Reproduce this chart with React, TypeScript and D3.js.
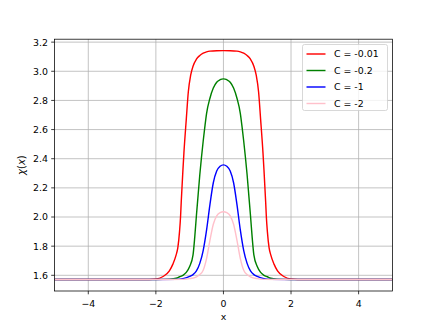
import React from 'react';
import * as d3 from 'd3';

const xTicks = [-4, -2, 0, 2, 4];
const yTicks = [1.6, 1.8, 2.0, 2.2, 2.4, 2.6, 2.8, 3.0, 3.2];
const xTickLabels = ['\u22124', '\u22122', '0', '2', '4'];
const yTickLabels = ['1.6', '1.8', '2.0', '2.2', '2.4', '2.6', '2.8', '3.0', '3.2'];

const seriesNames = ['C = -0.01', 'C = -0.2', 'C = -1', 'C = -2'];
const seriesColors = ['red', 'green', 'blue', 'pink'];

const redX = [-5, -3, -2.4, -2.0, -1.8, -1.6, -1.5, -1.4, -1.35, -1.3, -1.27, -1.25, -1.2, -1.17, -1.1, -1.04, -0.97, -0.9, -0.8, -0.7, -0.6, -0.5, -0.4, -0.2, 0,
  0.2, 0.4, 0.5, 0.6, 0.7, 0.8, 0.9, 0.97, 1.04, 1.1, 1.17, 1.2, 1.25, 1.27, 1.3, 1.35, 1.4, 1.5, 1.6, 1.8, 2.0, 2.4, 3, 5];
const redY = [1.5708, 1.5708, 1.571, 1.575, 1.59, 1.63, 1.675, 1.74, 1.79, 1.9, 2.0, 2.1, 2.32, 2.44, 2.67, 2.858, 2.973, 3.035, 3.083, 3.108, 3.124, 3.133, 3.138, 3.141, 3.1416,
  3.141, 3.138, 3.133, 3.124, 3.108, 3.083, 3.035, 2.973, 2.858, 2.67, 2.44, 2.32, 2.1, 2.0, 1.9, 1.79, 1.74, 1.675, 1.63, 1.59, 1.575, 1.571, 1.5708, 1.5708];

const greenX = [-5, -2, -1.6, -1.4, -1.3, -1.2, -1.1, -1.0, -0.9, -0.85, -0.8, -0.75, -0.7, -0.65, -0.6, -0.55, -0.5, -0.4, -0.3, -0.2, -0.1, 0,
  0.1, 0.2, 0.3, 0.4, 0.5, 0.55, 0.6, 0.65, 0.7, 0.75, 0.8, 0.85, 0.9, 1.0, 1.1, 1.2, 1.3, 1.4, 1.6, 2, 5];
const greenY = [1.5708, 1.5709, 1.574, 1.58, 1.59, 1.6, 1.62, 1.66, 1.74, 1.86, 2.01, 2.15, 2.29, 2.41, 2.52, 2.62, 2.71, 2.815, 2.885, 2.925, 2.942, 2.948,
  2.942, 2.925, 2.885, 2.815, 2.71, 2.62, 2.52, 2.41, 2.29, 2.15, 2.01, 1.86, 1.74, 1.66, 1.62, 1.6, 1.59, 1.58, 1.574, 1.5709, 1.5708];

const blueX = [-5, -2, -1.4, -1.2, -1.0, -0.9, -0.8, -0.7, -0.6, -0.5, -0.4, -0.3, -0.2, -0.1, 0,
  0.1, 0.2, 0.3, 0.4, 0.5, 0.6, 0.7, 0.8, 0.9, 1.0, 1.2, 1.4, 2, 5];
const blueY = [1.5708, 1.5709, 1.572, 1.577, 1.592, 1.605, 1.63, 1.682, 1.77, 1.91, 2.085, 2.235, 2.315, 2.348, 2.358,
  2.348, 2.315, 2.235, 2.085, 1.91, 1.77, 1.682, 1.63, 1.605, 1.592, 1.577, 1.572, 1.5709, 1.5708];

const pinkX = [-5, -2, -1.2, -1.0, -0.8, -0.7, -0.6, -0.5, -0.4, -0.3, -0.2, -0.1, 0,
  0.1, 0.2, 0.3, 0.4, 0.5, 0.6, 0.7, 0.8, 1.0, 1.2, 2, 5];
const pinkY = [1.5708, 1.5709, 1.572, 1.577, 1.59, 1.605, 1.635, 1.715, 1.84, 1.95, 2.008, 2.03, 2.036,
  2.03, 2.008, 1.95, 1.84, 1.715, 1.635, 1.605, 1.59, 1.577, 1.572, 1.5709, 1.5708];

const seriesX = [redX, greenX, blueX, pinkX];
const seriesY = [redY, greenY, blueY, pinkY];

const W = 436, H = 327;
const L = 54.5, R = 392.4, T = 39.2, B = 291;
const FONT = 'DejaVu Sans, sans-serif';
const FS = 9.4;

export default function App() {
  const x = d3.scaleLinear().domain([-5, 5]).range([L, R]);
  const y = d3.scaleLinear().domain([1.4923, 3.2201]).range([B, T]);
  const line = d3.line<[number, number]>().x(d => x(d[0])).y(d => y(d[1])).curve(d3.curveMonotoneX);

  const legX = 302.5, legY = 44.5, legW = 85, legH = 66;
  const rowY = [54, 70.5, 87, 103.5];

  return (
    <svg width={W} height={H} style={{ position: 'absolute', left: 0, top: 0, background: 'white' }}>
      <defs>
        <clipPath id="ax"><rect x={L} y={T} width={R - L} height={B - T} /></clipPath>
      </defs>
      <rect x={0} y={0} width={W} height={H} fill="white" />
      <g stroke="#b0b0b0" strokeWidth={0.76}>
        {xTicks.map(t => <line key={'gx' + t} x1={x(t)} x2={x(t)} y1={T} y2={B} />)}
        {yTicks.map(t => <line key={'gy' + t} x1={L} x2={R} y1={y(t)} y2={y(t)} />)}
      </g>
      <g clipPath="url(#ax)" fill="none" strokeWidth={1.42} strokeLinejoin="round" strokeLinecap="butt">
        {seriesX.map((xs, i) => (
          <path key={i} d={line(xs.map((v, j) => [v, seriesY[i][j]]) as [number, number][]) || ''} stroke={seriesColors[i]} />
        ))}
      </g>
      <rect x={L} y={T} width={R - L} height={B - T} fill="none" stroke="black" strokeWidth={0.76} />
      <g stroke="black" strokeWidth={0.76}>
        {xTicks.map(t => <line key={'tx' + t} x1={x(t)} x2={x(t)} y1={B} y2={B + 3.3} />)}
        {yTicks.map(t => <line key={'ty' + t} x1={L} x2={L - 3.3} y1={y(t)} y2={y(t)} />)}
      </g>
      <g fontFamily={FONT} fontSize={FS} fill="black">
        {xTicks.map((t, i) => (
          <text key={'lx' + t} x={x(t)} y={B + 6.6 + 8.9} textAnchor="middle">{xTickLabels[i]}</text>
        ))}
        {yTicks.map((t, i) => (
          <text key={'ly' + t} x={L - 6.6} y={y(t) + 3.4} textAnchor="end">{yTickLabels[i]}</text>
        ))}
        <text x={(L + R) / 2} y={B + 28.5} textAnchor="middle">x</text>
        <text transform={`translate(24.5, ${(T + B) / 2}) rotate(-90)`} textAnchor="middle" fontSize={10}>
          <tspan fontStyle="italic">χ</tspan><tspan>(</tspan><tspan fontStyle="italic">x</tspan><tspan>)</tspan>
        </text>
      </g>
      <rect x={legX} y={legY} width={legW} height={legH} rx={2} ry={2} fill="white" fillOpacity={0.8} stroke="#cccccc" strokeWidth={0.76} />
      <g fontFamily={FONT} fontSize={FS}>
        {seriesNames.map((n, i) => (
          <g key={n}>
            <line x1={306.5} x2={325.5} y1={rowY[i]} y2={rowY[i]} stroke={seriesColors[i]} strokeWidth={1.42} />
            <text x={334} y={rowY[i] + 3.4} fill="black">{n}</text>
          </g>
        ))}
      </g>
    </svg>
  );
}
